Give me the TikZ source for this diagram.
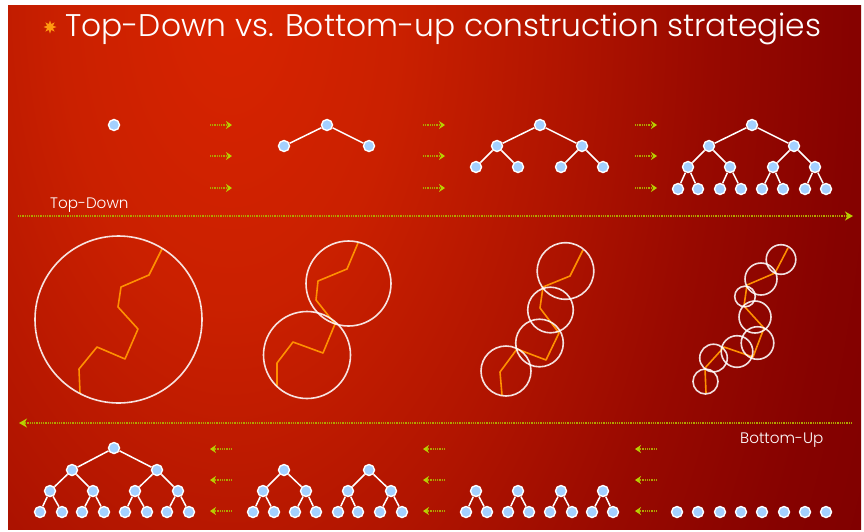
\documentclass[tikz,border=0pt]{standalone}
\usepackage{fontspec}
\setmainfont{Poppins Light}
\usetikzlibrary{arrows.meta,shapes.geometric}
\definecolor{nodeblue}{HTML}{A3D0FF}
\definecolor{crackorange}{HTML}{FF9000}
\definecolor{starorange}{HTML}{FF9A10}
\definecolor{shaftcol}{HTML}{B0A400}
\definecolor{headcol}{HTML}{B8D000}
\definecolor{bg0}{HTML}{D82400}
\definecolor{bg1}{HTML}{CA2000}
\definecolor{bg2}{HTML}{B01400}
\definecolor{bg3}{HTML}{980900}
\definecolor{bg4}{HTML}{860200}
\definecolor{bg5}{HTML}{800000}
\definecolor{bg6}{HTML}{7C0000}
\pgfdeclareradialshading{bgshade}{\pgfpoint{0bp}{0bp}}{color(0bp)=(bg0); color(6bp)=(bg1); color(12bp)=(bg2); color(17bp)=(bg3); color(22bp)=(bg4); color(25bp)=(bg5); color(32bp)=(bg6); color(100bp)=(bg6)}
\tikzset{
  tn/.style={circle, fill=nodeblue, draw=white, line width=1.4pt, minimum size=11pt, inner sep=0pt},
  te/.style={draw=white, line width=1.5pt},
  sarr/.style={draw=shaftcol, line width=1.4pt, dash pattern=on 1pt off 0.8pt, -{Stealth[length=6pt,width=8pt,inset=2pt,color=headcol]}},
  larr/.style={draw=shaftcol, line width=1.6pt, dash pattern=on 1pt off 0.8pt, -{Stealth[length=8pt,width=9pt,inset=2.5pt,color=headcol]}},
  ring/.style={draw=white, draw opacity=0.88, line width=1.6pt},
  crack/.style={draw=crackorange, line width=1.6pt, line join=round},
  lbl/.style={text=white, inner sep=0pt, font=\fontsize{15.2}{18}\selectfont}
}
\newcommand\treelevel[3]{\foreach \x [count=\i] in {#3} {\node[tn] (#1\i) at (\x,#2) {};}}
\newcommand\treelinks[3]{\foreach \j in {1,...,#3} {\pgfmathtruncatemacro\p{(\j+1)/2}\draw[te] (#1\p) -- (#2\j);}}
\begin{document}
\begin{tikzpicture}[x=1pt,y=-1pt]
\useasboundingbox (0,0) rectangle (864,531);
\fill[white] (0,0) rectangle (864,531);
\begin{scope}
\clip (8,5) rectangle (861,529);
\begin{scope}[transform canvas={yscale=1.8}]
\shade[shading=bgshade] (-477,-707) rectangle (937,707);
\end{scope}
\end{scope}

% title
\node[star, star points=8, star point ratio=2, fill=starorange, minimum size=13pt, inner sep=0pt] (star) at (50,27) {};
\node[anchor=base west, text=white, inner sep=0pt, font=\fontsize{31.3}{37}\selectfont] (title) at (65,36) {Top-Down vs. Bottom-up construction strategies};

% labels
\node[lbl, anchor=west] (tdlabel) at (50,205) {Top-Down};
\node[lbl, anchor=west] (bulabel) at (740,440) {Bottom-Up};

% long arrows
\coordinate (tdS) at (18,216);
\coordinate (tdE) at (853,216);
\draw[larr] (tdS) -- (tdE);
\coordinate (buS) at (852,423);
\coordinate (buE) at (19,423);
\draw[larr] (buS) -- (buE);

% small arrows
\foreach \x in {210,423,635} {
  \foreach \y [count=\k] in {125,156,188} {
    \coordinate (ta\x a\k) at (\x,\y);
    \coordinate (tb\x b\k) at (\x+22,\y);
    \draw[sarr] (ta\x a\k) -- (tb\x b\k);
  }
  \foreach \y [count=\k] in {449,480,511} {
    \coordinate (ba\x a\k) at (\x+22,\y);
    \coordinate (bb\x b\k) at (\x,\y);
    \draw[sarr] (ba\x a\k) -- (bb\x b\k);
  }
}

% top trees
\treelevel{ta}{125}{114}
\treelevel{tbA}{125}{327}
\treelevel{tbB}{146}{284,369}
\treelinks{tbA}{tbB}{2}
\treelevel{tcA}{125}{540}
\treelevel{tcB}{146}{497,582}
\treelevel{tcC}{167}{476,518,561,603}
\treelinks{tcA}{tcB}{2}
\treelinks{tcB}{tcC}{4}
\treelevel{tdA}{125}{752}
\treelevel{tdB}{146}{709,794}
\treelevel{tdC}{167}{688,730,773,815}
\treelevel{tdD}{189}{678,698,720,741,762,783,805,826}
\treelinks{tdA}{tdB}{2}
\treelinks{tdB}{tdC}{4}
\treelinks{tdC}{tdD}{8}

% bottom trees
\treelevel{baA}{448}{114}
\treelevel{baB}{470}{72,157}
\treelevel{baC}{491}{50,93,135,178}
\treelevel{baD}{512}{40,62,82,104,125,147,167,189}
\treelinks{baA}{baB}{2}
\treelinks{baB}{baC}{4}
\treelinks{baC}{baD}{8}
\treelevel{bbB}{470}{284,369}
\treelevel{bbC}{491}{263,306,348,391}
\treelevel{bbD}{512}{253,274,295,316,338,358,380,402}
\treelinks{bbB}{bbC}{4}
\treelinks{bbC}{bbD}{8}
\treelevel{bcC}{491}{476,518,561,603}
\treelevel{bcD}{512}{466,487,508,529,550,572,592,613}
\treelinks{bcC}{bcD}{8}
\treelevel{bdD}{512}{677,698,720,741,762,784,805,826}

% cracks
\draw[crack] (162,249) -- (149,275) -- (121,287) -- (118,307) -- (138,329) -- (125,359) -- (97,347) -- (79,369) -- (80,393);
\draw[crack] (358,243) -- (347,269) -- (318,281) -- (316,300) -- (335,324) -- (323,353) -- (293,342) -- (277,363) -- (277,386);
\draw[crack] (583,250) -- (570,276) -- (543,287) -- (540,308) -- (559,333) -- (546,360) -- (517,349) -- (500,372) -- (502,395);
\draw[crack] (788,248) -- (775,273) -- (747,285) -- (744,306) -- (764,328) -- (753,357) -- (724,347) -- (705,368) -- (706,393);

% circles
\draw[ring] (118.5,319.5) circle[radius=83.5];
\draw[ring] (348.5,283.5) circle[radius=42.5];
\draw[ring] (307,355) circle[radius=43.5];
\draw[ring] (565.5,271) circle[radius=28.3];
\draw[ring] (550.5,310) circle[radius=22.8];
\draw[ring] (539.5,343) circle[radius=23.8];
\draw[ring] (506,371) circle[radius=25];
\draw[ring] (781,259.5) circle[radius=14.8];
\draw[ring] (761,279) circle[radius=16];
\draw[ring] (745,296.5) circle[radius=10.3];
\draw[ring] (755,317) circle[radius=16];
\draw[ring] (757.5,343) circle[radius=16.3];
\draw[ring] (737,351.5) circle[radius=15.8];
\draw[ring] (713.5,358) circle[radius=13.8];
\draw[ring] (705.5,381.5) circle[radius=12.5];
\end{tikzpicture}
\end{document}
